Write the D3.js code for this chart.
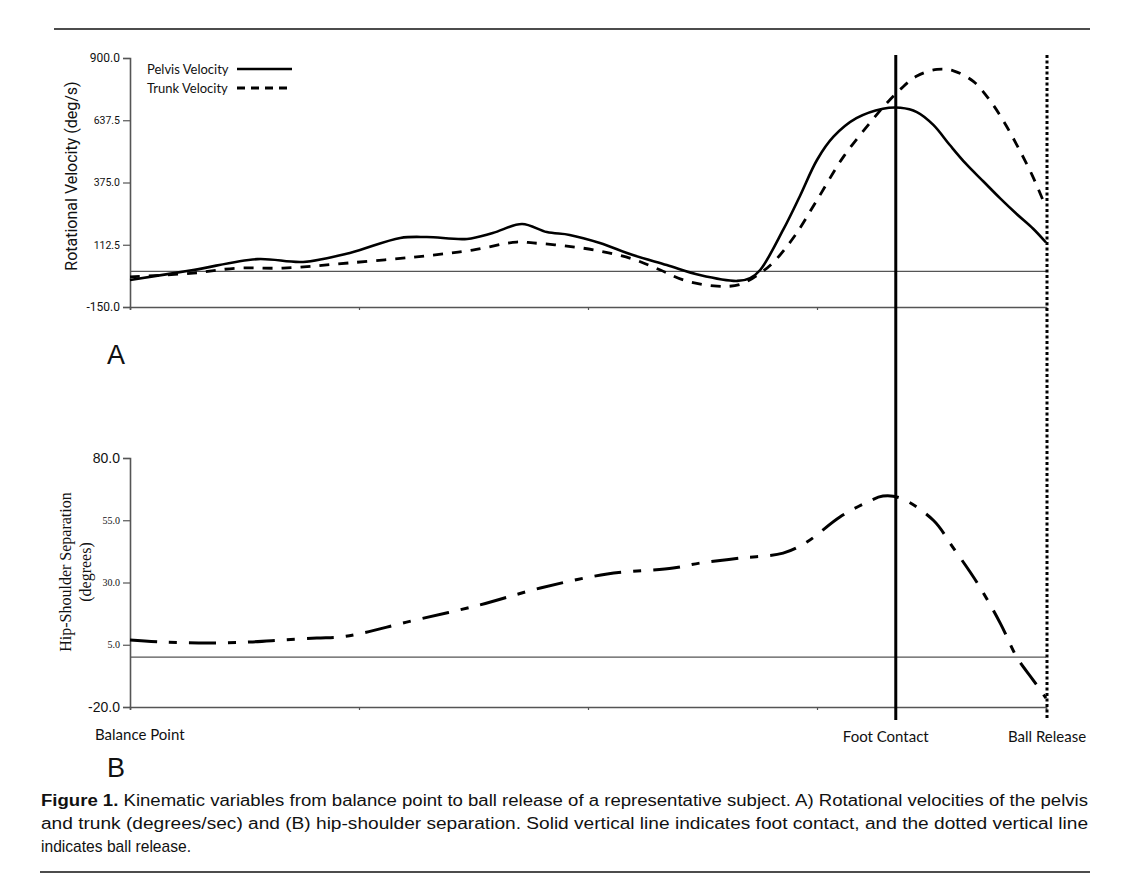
<!DOCTYPE html>
<html>
<head>
<meta charset="utf-8">
<script src="https://cdn.jsdelivr.net/npm/d3@7"></script>
<style>
  body { margin: 0; background: #fff; }
  svg text { fill: #111; }
</style>
</head>
<body>
<div id="fig"></div>
<script>
// normalised time (% from balance point to ball release)
var pelvisTime = [0, 6.9, 13.9, 18.9, 24.0, 29.5, 32.4, 36.8, 39.6, 42.8, 45.5, 48.0, 51.3, 54.9, 58.6, 62.2, 66.3, 67.7, 68.8, 71.3, 73.1, 75.0, 76.8, 79.3, 82.2, 84.1, 85.9, 87.7, 89.5, 91.3, 93.2, 95.0, 96.8, 98.6, 100];
var pelvisVel = [-36, 6, 52, 40, 78, 141, 145, 137, 162, 200, 166, 154, 120, 69, 27, -15, -40, -28, 6, 175, 315, 470, 568, 646, 686, 690, 672, 618, 533, 452, 378, 308, 242, 180, 122];

var trunkTime = [0, 6.9, 11.7, 16.7, 24.0, 33.1, 37.4, 42.2, 44.0, 47.7, 51.3, 54.9, 57.9, 60.4, 64.1, 66.6, 68.8, 70.3, 72.5, 75.0, 77.9, 81.2, 82.6, 84.1, 85.9, 88.1, 89.9, 92.1, 93.9, 95.5, 97.0, 98.5, 100];
var trunkVel = [-23, -7, 14, 14, 36, 69, 90, 124, 120, 107, 86, 52, 6, -36, -62, -55, -7, 41, 146, 301, 484, 646, 709, 768, 824, 852, 846, 800, 720, 625, 520, 405, 270];

var sepTime = [0, 3.3, 8.7, 13.1, 16.7, 20.4, 22.9, 25.4, 30.2, 38.2, 44.8, 52.1, 59.3, 62.2, 66.6, 71.3, 73.9, 77.5, 80.5, 82.2, 84.1, 87.7, 89.8, 92.5, 95.0, 96.8, 98.6, 100];
var sepDeg = [6.9, 6.1, 5.7, 6.1, 6.9, 7.7, 8.1, 9.7, 14.1, 21, 27.8, 33.4, 35.8, 37.8, 39.8, 41.8, 46.3, 56.3, 62.3, 64.7, 63.9, 55, 44.3, 29.8, 13.7, 0.1, -9.2, -16.4];

var velTicks = [-150, 112.5, 375, 637.5, 900];
var sepTicks = [-20, 5, 30, 55, 80];
var timeTicks = [0, 25, 50, 75, 100];
var footContact = 83.6;
var ballRelease = 100;

var svg = d3.select("#fig").append("svg")
  .attr("width", 1136)
  .attr("height", 894);

var x = d3.scaleLinear().domain([0, 100]).range([130, 1046]);
var yTop = d3.scaleLinear().domain([-150, 900]).range([307, 58]);
var yBot = d3.scaleLinear().domain([-20, 80]).range([707, 458]);

var fmt = d3.format(".1f");

// rules above and below the figure
svg.append("line").attr("x1", 54).attr("x2", 1090).attr("y1", 29).attr("y2", 29)
  .attr("stroke", "#111").attr("stroke-width", 1.5);
svg.append("line").attr("x1", 40).attr("x2", 1090).attr("y1", 872).attr("y2", 872)
  .attr("stroke", "#111").attr("stroke-width", 1.5);

function drawPanel(y, ticks, bigFont, smallFont, bigSize, smallSize) {
  var g = svg.append("g");
  // zero line
  g.append("line")
    .attr("x1", x(0)).attr("x2", x(100))
    .attr("y1", y(0)).attr("y2", y(0))
    .attr("stroke", "#555").attr("stroke-width", 1.3);

  var yAxis = g.append("g")
    .attr("transform", "translate(" + x(0) + ",0)")
    .call(d3.axisLeft(y).tickValues(ticks)
      .tickFormat(function(d) { return fmt(d).replace("\u2212", "-"); })
      .tickSizeOuter(0).tickSize(7).tickPadding(3));
  var ends = [ticks[0], ticks[ticks.length - 1]];
  yAxis.selectAll("text")
    .style("font-family", function(d) { return ends.indexOf(d) >= 0 ? bigFont : smallFont; })
    .style("font-size", function(d) { return (ends.indexOf(d) >= 0 ? bigSize : smallSize) + "px"; })
    .attr("fill", "#222");

  g.append("g")
    .attr("transform", "translate(0," + y.range()[0] + ")")
    .call(d3.axisBottom(x).tickValues(timeTicks).tickFormat("").tickSizeOuter(0).tickSize(3));

  g.selectAll(".domain").attr("stroke", "#555").attr("stroke-width", 1.6);
  g.selectAll(".tick line").attr("stroke", "#555").attr("stroke-width", 1.2);
  return g;
}

drawPanel(yTop, velTicks, "Roboto, 'Liberation Sans', sans-serif", "Roboto, 'Liberation Sans', sans-serif", 12, 10.5);
drawPanel(yBot, sepTicks, "'Liberation Sans', Arial, sans-serif", "'Liberation Serif', serif", 14, 10);

// series
var lineTop = d3.line().curve(d3.curveCatmullRom.alpha(0.5))
  .x(function(d) { return x(d[0]); })
  .y(function(d) { return yTop(d[1]); });
var lineBot = d3.line().curve(d3.curveCatmullRom.alpha(0.5))
  .x(function(d) { return x(d[0]); })
  .y(function(d) { return yBot(d[1]); });

svg.append("path")
  .datum(d3.zip(pelvisTime, pelvisVel))
  .attr("d", lineTop)
  .attr("fill", "none").attr("stroke", "#000").attr("stroke-width", 2.6);

svg.append("path")
  .datum(d3.zip(trunkTime, trunkVel))
  .attr("d", lineTop)
  .attr("fill", "none").attr("stroke", "#000").attr("stroke-width", 2.8)
  .attr("stroke-dasharray", "10,9");

svg.append("path")
  .datum(d3.zip(sepTime, sepDeg))
  .attr("d", lineBot)
  .attr("fill", "none").attr("stroke", "#000").attr("stroke-width", 3)
  .attr("stroke-dasharray", "27,12,8,12");

// event lines
svg.append("line")
  .attr("x1", x(footContact)).attr("x2", x(footContact))
  .attr("y1", 55).attr("y2", 720)
  .attr("stroke", "#000").attr("stroke-width", 3);
svg.append("line")
  .attr("x1", x(ballRelease) + 1).attr("x2", x(ballRelease) + 1)
  .attr("y1", 55).attr("y2", 720)
  .attr("stroke", "#000").attr("stroke-width", 3)
  .attr("stroke-dasharray", "3,2.5");

// legend
var legend = svg.append("g").style("font-family", "Lato, 'Open Sans', sans-serif").style("font-size", "13px");
legend.append("text").attr("x", 147).attr("y", 74).text("Pelvis Velocity");
legend.append("text").attr("x", 147).attr("y", 93).text("Trunk Velocity");
legend.append("line").attr("x1", 237).attr("x2", 292).attr("y1", 69).attr("y2", 69)
  .attr("stroke", "#000").attr("stroke-width", 2.6);
legend.append("line").attr("x1", 237).attr("x2", 292).attr("y1", 88).attr("y2", 88)
  .attr("stroke", "#000").attr("stroke-width", 2.8).attr("stroke-dasharray", "8,6");

// axis titles
svg.append("text")
  .attr("transform", "translate(77,176) rotate(-90)")
  .attr("text-anchor", "middle")
  .style("font-family", "Roboto, 'Liberation Sans', sans-serif")
  .style("font-size", "16px")
  .attr("fill", "#333")
  .text("Rotational Velocity (deg/s)");

var sepTitle = svg.append("text")
  .attr("transform", "translate(71,572) rotate(-90)")
  .attr("text-anchor", "middle")
  .style("font-family", "'Liberation Serif', 'DejaVu Serif', serif")
  .style("font-size", "16px");
sepTitle.append("tspan").attr("x", 0).attr("dy", 0).text("Hip-Shoulder Separation");
sepTitle.append("tspan").attr("x", 0).attr("dy", 20).text("(degrees)");

// panel letters
svg.append("text").attr("x", 107).attr("y", 364)
  .style("font-family", "'Liberation Sans', Arial, sans-serif").style("font-size", "27px").text("A");
svg.append("text").attr("x", 107).attr("y", 777)
  .style("font-family", "'Liberation Sans', Arial, sans-serif").style("font-size", "27px").text("B");

// phase labels
var phase = svg.append("g").style("font-family", "Lato, 'Open Sans', sans-serif").style("font-size", "15px").attr("fill", "#222");
phase.append("text").attr("x", 95).attr("y", 740).text("Balance Point");
phase.append("text").attr("x", x(footContact) - 10).attr("y", 742).attr("text-anchor", "middle").text("Foot Contact");
phase.append("text").attr("x", 1047).attr("y", 742).attr("text-anchor", "middle").text("Ball Release");

// caption
var cap = svg.append("g").style("font-family", "'Liberation Sans Narrow', 'Liberation Sans', sans-serif").style("font-size", "16px");
var l1 = cap.append("text").attr("x", 41).attr("y", 806).attr("textLength", 1047).attr("lengthAdjust", "spacingAndGlyphs");
l1.append("tspan").style("font-weight", "bold").text("Figure 1.");
l1.append("tspan").text(" Kinematic variables from balance point to ball release of a representative subject. A) Rotational velocities of the pelvis");
cap.append("text").attr("x", 41).attr("y", 829).attr("textLength", 1047).attr("lengthAdjust", "spacingAndGlyphs")
  .text("and trunk (degrees/sec) and (B) hip-shoulder separation. Solid vertical line indicates foot contact, and the dotted vertical line");
cap.append("text").attr("x", 41).attr("y", 852).attr("textLength", 150).attr("lengthAdjust", "spacingAndGlyphs")
  .style("font-size", "17px")
  .text("indicates ball release.");
</script>
</body>
</html>
